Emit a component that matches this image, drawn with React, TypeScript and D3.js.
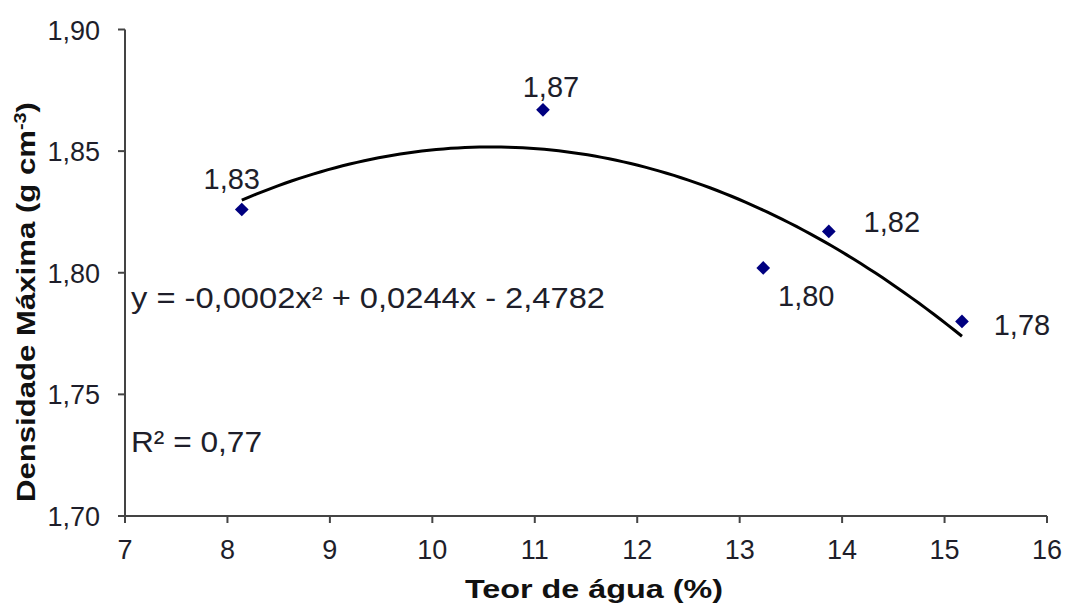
import React from "react";
import * as d3 from "d3";

const teorAgua = [8.14, 11.08, 13.23, 13.87, 15.17];
const densidade = [1.826, 1.867, 1.802, 1.817, 1.78];
const pointLabels = ["1,83", "1,87", "1,80", "1,82", "1,78"];
const xTicks = [7, 8, 9, 10, 11, 12, 13, 14, 15, 16];
const yTicks = [1.7, 1.75, 1.8, 1.85, 1.9];
const equationText = "y = -0,0002x² + 0,0244x  - 2,4782";
const r2Text = "R² = 0,77";
const xTitle = "Teor de água (%)";

// label offsets (dx, dy) relative to each point, in pixels
const labelOffsets: [number, number][] = [
  [-10, -21],
  [8, -13],
  [43, 38],
  [63, 1],
  [60, 14],
];

function quadFit(xs: number[], ys: number[]) {
  const n = xs.length;
  let s1 = 0, s2 = 0, s3 = 0, s4 = 0, t0 = 0, t1 = 0, t2 = 0;
  for (let i = 0; i < n; i++) {
    const x = xs[i], y = ys[i];
    s1 += x; s2 += x * x; s3 += x ** 3; s4 += x ** 4;
    t0 += y; t1 += x * y; t2 += x * x * y;
  }
  const M = [
    [n, s1, s2, t0],
    [s1, s2, s3, t1],
    [s2, s3, s4, t2],
  ];
  for (let i = 0; i < 3; i++) {
    let p = i;
    for (let r = i + 1; r < 3; r++) if (Math.abs(M[r][i]) > Math.abs(M[p][i])) p = r;
    [M[i], M[p]] = [M[p], M[i]];
    for (let r = 0; r < 3; r++) {
      if (r === i) continue;
      const f = M[r][i] / M[i][i];
      for (let c = i; c < 4; c++) M[r][c] -= f * M[i][c];
    }
  }
  const a = M[0][3] / M[0][0], b = M[1][3] / M[1][1], c = M[2][3] / M[2][2];
  return (x: number) => a + b * x + c * x * x;
}

export default function App() {
  const W = 1066, H = 610;
  const x = d3.scaleLinear().domain([7, 16]).range([125, 1047]);
  const y = d3.scaleLinear().domain([1.7, 1.9]).range([516, 29.5]);
  const f = quadFit(teorAgua, densidade);
  const xmin = d3.min(teorAgua)!, xmax = d3.max(teorAgua)!;
  const curvePts = d3.range(0, 101).map((i) => {
    const xv = xmin + ((xmax - xmin) * i) / 100;
    return [x(xv), y(f(xv))] as [number, number];
  });
  const line = d3.line().curve(d3.curveLinear)(curvePts) || "";
  const font = "'Liberation Sans', Arial, sans-serif";
  const axisColor = "#444";
  const textColor = "#1e1e2a";
  const diamond = d3.symbol().type(d3.symbolDiamond2).size(120)() || "";

  return (
    <svg width={W} height={H} style={{ position: "absolute", left: 0, top: 0, background: "#fff" }} fontFamily={font}>
      <rect width={W} height={H} fill="#fff" />
      {/* axes */}
      <line x1={x(7)} x2={x(16)} y1={y(1.7)} y2={y(1.7)} stroke={axisColor} strokeWidth={2} />
      <line x1={x(7)} x2={x(7)} y1={y(1.7)} y2={y(1.9)} stroke={axisColor} strokeWidth={2} />
      {xTicks.map((t) => (
        <g key={"xt" + t}>
          <line x1={x(t)} x2={x(t)} y1={y(1.7)} y2={y(1.7) + 7} stroke={axisColor} strokeWidth={2} />
          <text x={x(t)} y={559} textAnchor="middle" fontSize={27} fill={textColor}>
            {t}
          </text>
        </g>
      ))}
      {yTicks.map((t) => (
        <g key={"yt" + t}>
          <line x1={x(7) - 7} x2={x(7)} y1={y(t)} y2={y(t)} stroke={axisColor} strokeWidth={2} />
          <text x={100} y={y(t) + 10} textAnchor="end" fontSize={27} fill={textColor}>
            {t.toFixed(2).replace(".", ",")}
          </text>
        </g>
      ))}
      {/* trend curve */}
      <path d={line} fill="none" stroke="#000" strokeWidth={3} />
      {/* points */}
      {teorAgua.map((xv, i) => (
        <path key={"p" + i} d={diamond} transform={`translate(${x(xv)},${y(densidade[i])})`} fill="#000080" />
      ))}
      {teorAgua.map((xv, i) => (
        <text
          key={"l" + i}
          x={x(xv) + labelOffsets[i][0]}
          y={y(densidade[i]) + labelOffsets[i][1]}
          textAnchor="middle"
          fontSize={29}
          fill={textColor}
        >
          {pointLabels[i]}
        </text>
      ))}
      {/* equation */}
      <text x={131} y={308} fontSize={30} fill={textColor} textLength={474} lengthAdjust="spacingAndGlyphs">
        {equationText}
      </text>
      <text x={131} y={452} fontSize={30} fill={textColor} textLength={131} lengthAdjust="spacingAndGlyphs">
        {r2Text}
      </text>
      {/* axis titles */}
      <text x={594} y={598} textAnchor="middle" fontSize={25} fontWeight="bold" fill="#111" textLength={258} lengthAdjust="spacingAndGlyphs">
        {xTitle}
      </text>
      <text
        transform="translate(35,302) rotate(-90)"
        textAnchor="middle"
        fontSize={25}
        fontWeight="bold"
        fill="#111"
        textLength={400}
        lengthAdjust="spacingAndGlyphs"
      >
        Densidade Máxima (g cm<tspan dy={-9} fontSize={16}>-3</tspan>
        <tspan dy={9}>)</tspan>
      </text>
    </svg>
  );
}
